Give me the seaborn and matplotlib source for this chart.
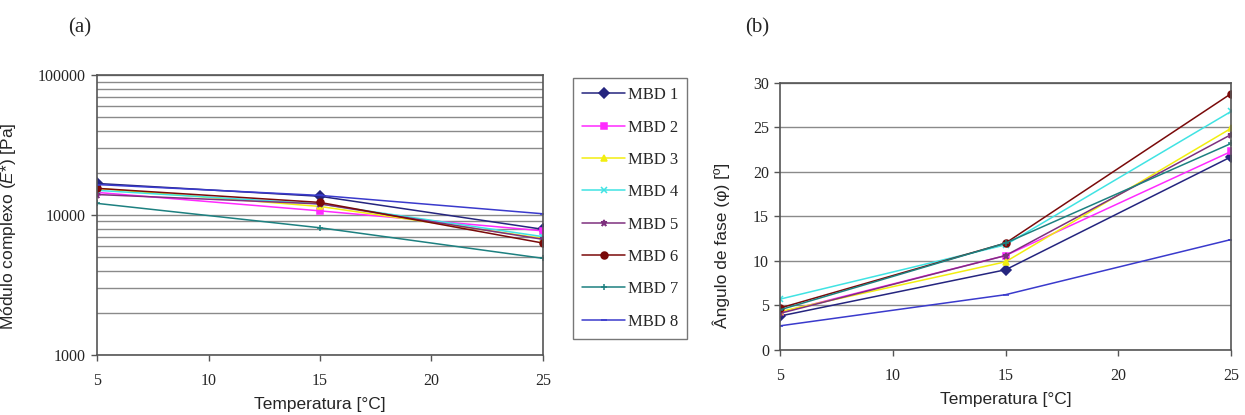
import numpy as np
import pandas as pd
import seaborn as sns
import matplotlib.pyplot as plt
from matplotlib.ticker import LogLocator, NullFormatter, FixedLocator

# Dados
temperaturas = [5, 15, 25]
misturas = ["MBD 1", "MBD 2", "MBD 3", "MBD 4", "MBD 5", "MBD 6", "MBD 7", "MBD 8"]

# Módulo complexo E* [Pa]
modulo_mbd1 = [16800, 13600, 7900]
modulo_mbd2 = [14500, 10700, 7700]
modulo_mbd3 = [15500, 11500, 6800]
modulo_mbd4 = [15000, 12000, 7000]
modulo_mbd5 = [14000, 12000, 6700]
modulo_mbd6 = [15500, 12300, 6300]
modulo_mbd7 = [12100, 8100, 4900]
modulo_mbd8 = [16500, 13800, 10200]

# Ângulo de fase [º]
angulo_mbd1 = [3.8, 9.0, 21.7]
angulo_mbd2 = [4.2, 10.6, 22.3]
angulo_mbd3 = [4.3, 9.9, 24.9]
angulo_mbd4 = [5.7, 11.8, 26.8]
angulo_mbd5 = [4.1, 10.6, 24.2]
angulo_mbd6 = [4.7, 12.0, 28.8]
angulo_mbd7 = [4.5, 12.0, 23.2]
angulo_mbd8 = [2.7, 6.2, 12.4]

modulos = [modulo_mbd1, modulo_mbd2, modulo_mbd3, modulo_mbd4,
           modulo_mbd5, modulo_mbd6, modulo_mbd7, modulo_mbd8]
angulos = [angulo_mbd1, angulo_mbd2, angulo_mbd3, angulo_mbd4,
           angulo_mbd5, angulo_mbd6, angulo_mbd7, angulo_mbd8]

rows = []
for nome, mod, ang in zip(misturas, modulos, angulos):
    for t, m, a in zip(temperaturas, mod, ang):
        rows.append({"Mistura": nome, "T": t, "E": m, "phi": a})
df = pd.DataFrame(rows)

# Estilo tipo Excel
cores = {"MBD 1": "#25257f", "MBD 2": "#ff2aff", "MBD 3": "#f2ee10",
         "MBD 4": "#40e3e3", "MBD 5": "#7e307e", "MBD 6": "#7a0a0a",
         "MBD 7": "#1d8080", "MBD 8": "#3a3acc"}
marcadores = {"MBD 1": "D", "MBD 2": "s", "MBD 3": "^", "MBD 4": "x",
              "MBD 5": "*", "MBD 6": "o", "MBD 7": "+", "MBD 8": "_"}

sns.set_style("white")
plt.rcParams["mathtext.fontset"] = "custom"
plt.rcParams["mathtext.it"] = "Liberation Sans:italic"
plt.rcParams["mathtext.rm"] = "Liberation Sans"

fig = plt.figure(figsize=(12.45, 4.15), dpi=100)
ax1 = fig.add_axes([0.078, 0.145, 0.358, 0.674])
ax2 = fig.add_axes([0.6265, 0.157, 0.3623, 0.643])

grid_cor = "#8a8a8a"
serif = "Liberation Serif"
sans = "Liberation Sans"

# Uma série de cada vez (marcadores cheios e de traço não se misturam no seaborn)
for nome in misturas:
    sub = df[df["Mistura"] == nome]
    for ax, col in ((ax1, "E"), (ax2, "phi")):
        sns.lineplot(data=sub, x="T", y=col, color=cores[nome],
                     marker=marcadores[nome], linewidth=1.1, markersize=5,
                     markeredgewidth=1.1, markeredgecolor=cores[nome],
                     label=nome, ax=ax, legend=False)

# --- (a) Módulo complexo ---
ax1.set_yscale("log")
ax1.set_ylim(1000, 100000)
ax1.set_xlim(5, 25)
ax1.yaxis.set_major_locator(FixedLocator([1000, 10000, 100000]))
ax1.yaxis.set_minor_locator(LogLocator(base=10, subs=np.arange(2, 10)))
ax1.yaxis.set_minor_formatter(NullFormatter())
ax1.set_yticklabels(["1000", "10000", "100000"])
ax1.grid(True, which="both", axis="y", color=grid_cor, linewidth=1.0)
ax1.tick_params(axis="y", which="minor", length=0)
ax1.set_xlabel("Temperatura [°C]", fontfamily=sans, fontsize=12.5, labelpad=6)
ax1.set_ylabel(r"Módulo complexo ($\it{E}$*) [Pa]", fontfamily=sans, fontsize=12.5)
ax1.yaxis.set_label_coords(-0.178, 0.46)

# --- (b) Ângulo de fase ---
ax2.set_ylim(0, 30)
ax2.set_xlim(5, 25)
ax2.set_yticks(np.arange(0, 31, 5))
ax2.grid(True, axis="y", color=grid_cor, linewidth=1.0)
ax2.set_xlabel("Temperatura [°C]", fontfamily=sans, fontsize=12.5, labelpad=6)
ax2.set_ylabel("Ângulo de fase (φ) [º]", fontfamily=sans, fontsize=12.5)
ax2.yaxis.set_label_coords(-0.111, 0.39)

for ax in (ax1, ax2):
    ax.set_xticks([5, 10, 15, 20, 25])
    ax.tick_params(axis="both", which="major", direction="out", length=4,
                   width=1, color="#555555", labelsize=11.5)
    ax.tick_params(axis="x", pad=9)
    ax.tick_params(axis="y", pad=4)
    ax.tick_params(left=True, bottom=True)
    for lbl in ax.get_xticklabels() + ax.get_yticklabels():
        lbl.set_fontfamily(serif)
    for sp in ax.spines.values():
        sp.set_color("#555555")
        sp.set_linewidth(1.2)
        sp.set_visible(True)

# Legenda
handles, labels = ax1.get_legend_handles_labels()
leg = fig.legend(handles, labels, loc="upper left", bbox_to_anchor=(0.4602, 0.812),
                 frameon=True, fancybox=False, edgecolor="#555555",
                 prop={"family": serif, "size": 12}, labelspacing=0.98,
                 handlelength=2.6, handletextpad=0.15, borderpad=0.55,
                 borderaxespad=0)
leg.get_frame().set_linewidth(1.0)

fig.text(68 / 1245, 1 - 32 / 415, "(a)", fontfamily=serif, fontsize=15, va="baseline")
fig.text(745 / 1245, 1 - 32 / 415, "(b)", fontfamily=serif, fontsize=15, va="baseline")

fig.savefig("out.png", dpi=100)
